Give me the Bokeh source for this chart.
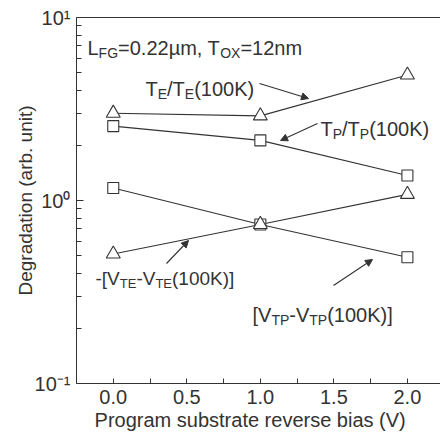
import math
from bokeh.plotting import figure
from bokeh.models import (Label, Arrow, NormalHead, FixedTicker, LinearAxis,
                          PrintfTickFormatter, Range1d)
from bokeh.embed import file_html
from bokeh.resources import INLINE

# ---- data ----
bias = [0.0, 1.0, 2.0]
te_ratio = [3.0, 2.9, 4.85]        # T_E/T_E(100K)
tp_ratio = [2.55, 2.13, 1.37]      # T_P/T_P(100K)
vtp_shift = [1.17, 0.74, 0.49]     # [V_TP - V_TP(100K)]
vte_shift = [0.51, 0.74, 1.08]     # -[V_TE - V_TE(100K)]

x_ticks = [0.0, 0.5, 1.0, 1.5, 2.0]
x_minor = [-0.25, 0.25, 0.75, 1.25, 1.75, 2.25]
y_ticks = [0.1, 1.0, 10.0]
y_minor = [0.2, 0.3, 0.4, 0.5, 0.6, 0.7, 0.8, 0.9, 2, 3, 4, 5, 6, 7, 8, 9]
y_tick_labels = ["10\u207b\u00b9", "10\u2070", "10\u00b9"]

# ---- layout ----
W, H = 440, 440
FL, FR, FT, FB = 76, 440, 17, 383
X0, X1 = -0.25, 2.225
Y0, Y1 = 0.1, 10.0
INK = "#333333"
FONT = "Liberation Sans"


def xd(px):
    return X0 + (px - FL) * (X1 - X0) / (FR - FL)


def yd(py):
    return 10 ** (math.log10(Y1) - (py - FT) * (math.log10(Y1) - math.log10(Y0)) / (FB - FT))


p = figure(width=W, height=H, y_axis_type="log", output_backend="svg",
           toolbar_location=None, x_range=Range1d(X0, X1), y_range=Range1d(Y0, Y1),
           min_border_left=FL, min_border_right=W - FR, min_border_top=FT,
           min_border_bottom=H - FB)
p.outline_line_color = None
p.grid.visible = False
p.background_fill_color = "white"

# x axis
xa = p.xaxis[0]
xa.ticker = FixedTicker(ticks=x_ticks, minor_ticks=x_minor)
xa.formatter = PrintfTickFormatter(format="%.1f")
xa.major_tick_in = 5
xa.major_tick_out = 0
xa.minor_tick_in = 5
xa.minor_tick_out = 0
xa.axis_line_color = INK
xa.major_tick_line_color = INK
xa.minor_tick_line_color = INK
xa.major_label_text_font = FONT
xa.major_label_text_font_size = "20px"
xa.major_label_text_color = INK
xa.major_label_standoff = 6
xa.axis_label = "Program substrate reverse bias (V)\u00a0\u00a0\u00a0"
xa.axis_label_text_font = FONT
xa.axis_label_text_font_size = "20px"
xa.axis_label_text_font_style = "normal"
xa.axis_label_text_color = INK
xa.axis_label_standoff = 2

# y axis
ya = p.yaxis[0]
ya.ticker = FixedTicker(ticks=y_ticks, minor_ticks=y_minor)
ya.major_label_overrides = {t: s for t, s in zip(y_ticks, y_tick_labels)}
ya.major_tick_in = 7
ya.major_tick_out = 0
ya.minor_tick_in = 5
ya.minor_tick_out = 0
ya.axis_line_color = INK
ya.major_tick_line_color = INK
ya.minor_tick_line_color = INK
ya.major_label_text_font = FONT
ya.major_label_text_font_size = "20px"
ya.major_label_text_color = INK
ya.major_label_standoff = 6
ya.axis_label = "Degradation (arb. unit)"
ya.axis_label_text_font = FONT
ya.axis_label_text_font_size = "19px"
ya.axis_label_text_font_style = "normal"
ya.axis_label_text_color = INK
ya.axis_label_standoff = -4

# top line
top = LinearAxis(ticker=FixedTicker(ticks=[]), major_tick_line_color=None,
                 minor_tick_line_color=None, axis_line_color=INK)
p.add_layout(top, "above")

# ---- series ----
for vals in [te_ratio, tp_ratio, vtp_shift, vte_shift]:
    p.line(bias, vals, line_color=INK, line_width=1.1)
for vals, marker, size in [(tp_ratio, "square", 11), (vtp_shift, "square", 11),
                           (te_ratio, "triangle", 14), (vte_shift, "triangle", 14)]:
    p.scatter(bias, vals, marker=marker, size=size, fill_color="white",
              line_color=INK, line_width=1.1)

# ---- text helpers ----
AW = {'T': 611, 'E': 667, '/': 278, '(': 333, ')': 333, '0': 556, '1': 556, '2': 556,
      'K': 667, 'P': 667, 'L': 556, 'F': 611, 'G': 778, '=': 584, '.': 278,
      '\u00b5': 576, 'm': 833, ',': 278, ' ': 278, 'O': 778, 'X': 667, 'n': 556,
      '-': 333, '[': 278, ']': 278, 'V': 667}


def twidth(s, fs):
    return sum(AW.get(c, 556) for c in s) * fs / 1000.0


def rich(px, py, pieces, size=20, sub=14, drop=5):
    x = px
    for text, kind in pieces:
        fs = size if kind == "n" else sub
        dy = 0 if kind == "n" else drop
        p.add_layout(Label(x=xd(x), y=yd(py + dy), text=text, text_font=FONT,
                           text_font_size=f"{fs}px", text_color=INK,
                           text_align="left", text_baseline="alphabetic"))
        x += twidth(text, fs)


rich(87, 47, [("L", "n"), ("FG", "s"), ("=0.22\u00b5m, T", "n"), ("OX", "s"), ("=12nm", "n")])
rich(145, 88, [("T", "n"), ("E", "s"), ("/T", "n"), ("E", "s"), ("(100K)", "n")])
rich(320, 128, [("T", "n"), ("P", "s"), ("/T", "n"), ("P", "s"), ("(100K)", "n")])
rich(95, 278, [("-[V", "n"), ("TE", "s"), ("-V", "n"), ("TE", "s"), ("(100K)]", "n")],
     size=19, sub=13)
rich(252, 314, [("[V", "n"), ("TP", "s"), ("-V", "n"), ("TP", "s"), ("(100K)]", "n")])

# arrows
for (sx, sy, ex, ey) in [(259, 83, 308, 98), (317, 123, 280, 140),
                         (166, 263, 188, 240), (333, 285, 372, 259)]:
    p.add_layout(Arrow(x_start=xd(sx), y_start=yd(sy), x_end=xd(ex), y_end=yd(ey),
                       line_color=INK, line_width=1.1,
                       end=NormalHead(size=7, fill_color=INK, line_color=INK)))

open("out.html", "w").write(file_html(p, INLINE))
